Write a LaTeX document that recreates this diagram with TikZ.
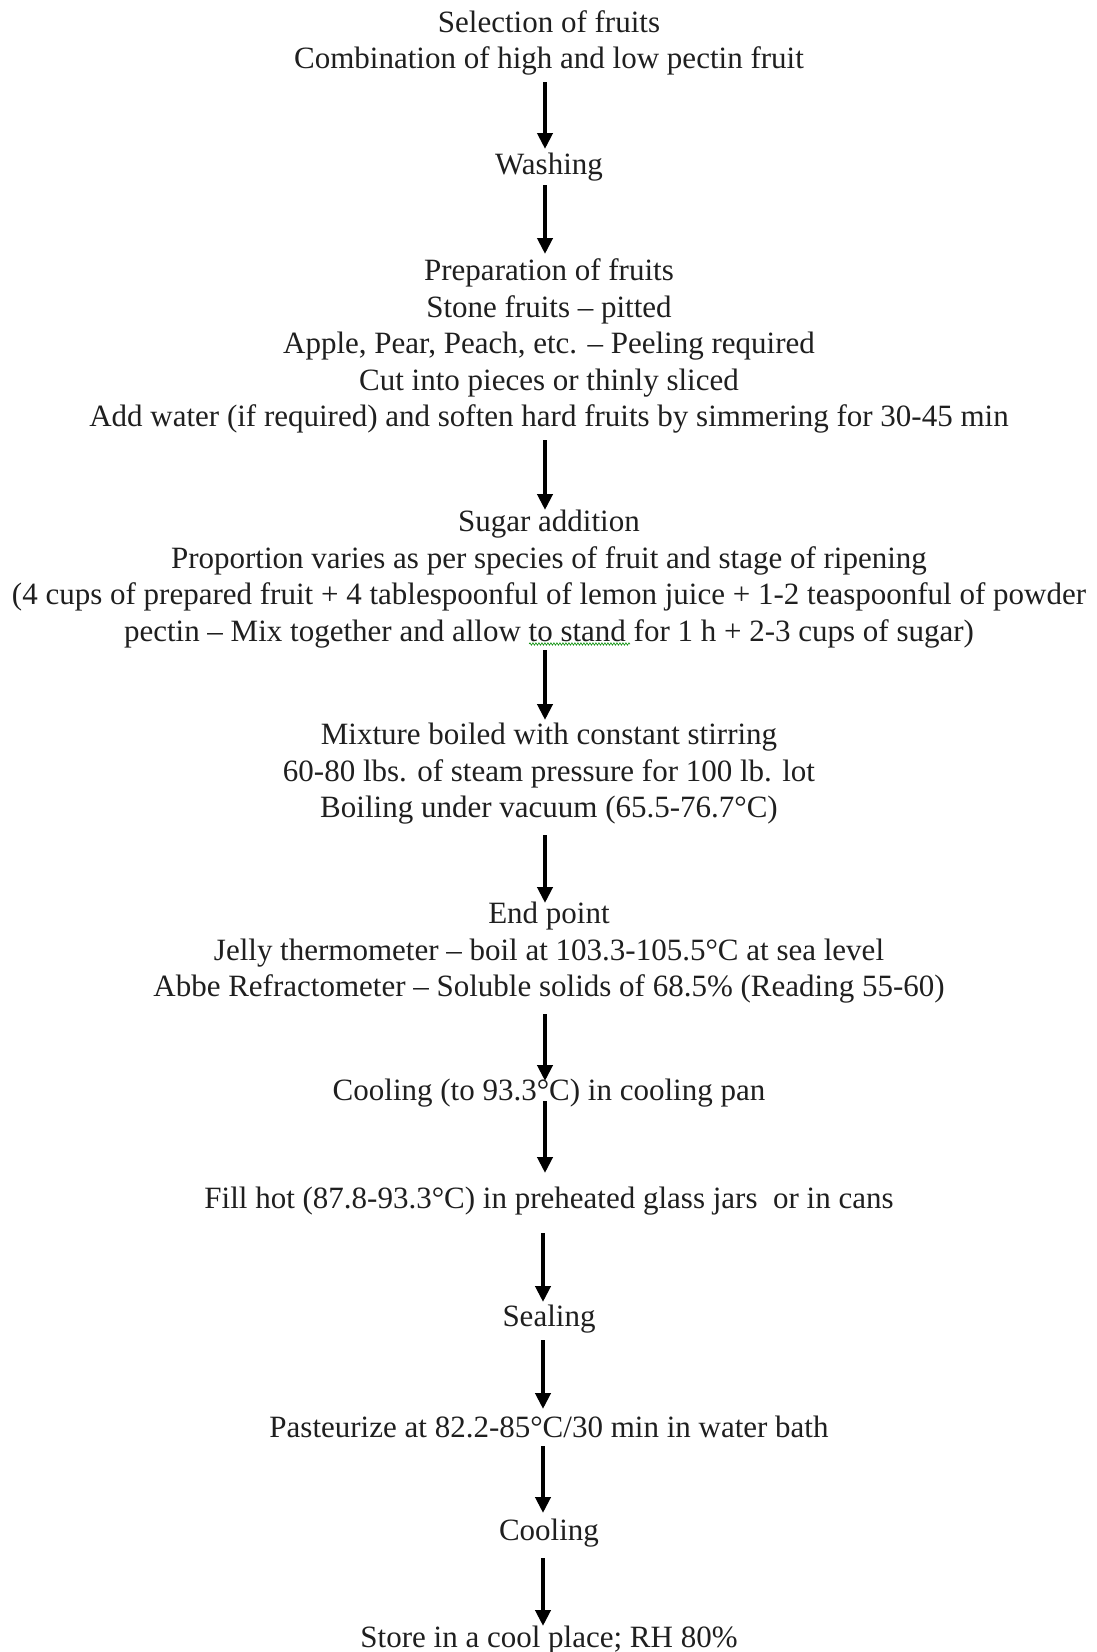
\documentclass[tikz,border=0pt]{standalone}
\usepackage{fontspec}
\setmainfont{Liberation Serif}
\usetikzlibrary{arrows.meta,decorations.pathmorphing}
\tikzset{
  stepbox/.style={align=center,inner sep=0pt,text=black!88,font=\fontsize{31}{36.5}\selectfont},
  flow/.style={line width=4pt,-{Triangle[length=16pt,width=15pt]}},
}
\begin{document}
\begin{tikzpicture}[x=1pt,y=1pt]
\useasboundingbox[fill=white] (0,0) rectangle (1096,-1652);
\node[stepbox] (n1) at (549,-43) {Selection of fruits\\Combination of high and low pectin fruit};
\node[stepbox] (n2) at (549,-167) {Washing};
\node[stepbox] (n3) at (549,-346) {Preparation of fruits\\Stone fruits -- pitted\\Apple, Pear, Peach, etc. -- Peeling required\\Cut into pieces or thinly sliced\\Add water (if required) and soften hard fruits by simmering for 30-45 min};
\node[stepbox] (n4) at (549,-579) {Sugar addition\\Proportion varies as per species of fruit and stage of ripening\\(4 cups of prepared fruit + 4 tablespoonful of lemon juice + 1-2 teaspoonful of powder\\pectin -- Mix together and allow to stand for 1 h + 2-3 cups of sugar)};
\node[stepbox] (n5) at (549,-774) {Mixture boiled with constant stirring\\60-80 lbs. of steam pressure for 100 lb. lot\\Boiling under vacuum (65.5-76.7°C)};
\node[stepbox] (n6) at (549,-953) {End point\\Jelly thermometer -- boil at 103.3-105.5°C at sea level\\Abbe Refractometer -- Soluble solids of 68.5\% (Reading 55-60)};
\node[stepbox] (n7) at (549,-1093) {Cooling (to 93.3°C) in cooling pan};
\node[stepbox] (n8) at (549,-1201) {Fill hot (87.8-93.3°C) in preheated glass jars\ \ or in cans};
\node[stepbox] (n9) at (549,-1319) {Sealing};
\node[stepbox] (n10) at (549,-1427) {Pasteurize at 82.2-85°C/30 min in water bath};
\node[stepbox] (n11) at (549,-1533) {Cooling};
\node[stepbox] (n12) at (549,-1640) {Store in a cool place; RH 80\%};
% arrow end points
\coordinate (a1s) at (545,-82);   \coordinate (a1e) at (545,-149);
\coordinate (a2s) at (545,-185);  \coordinate (a2e) at (545,-254);
\coordinate (a3s) at (545,-440);  \coordinate (a3e) at (545,-510);
\coordinate (a4s) at (545,-650);  \coordinate (a4e) at (545,-720);
\coordinate (a5s) at (545,-835);  \coordinate (a5e) at (545,-903);
\coordinate (a6s) at (545,-1014); \coordinate (a6e) at (545,-1081);
\coordinate (a7s) at (545,-1101); \coordinate (a7e) at (545,-1173);
\coordinate (a8s) at (543,-1233); \coordinate (a8e) at (543,-1302);
\coordinate (a9s) at (543,-1340); \coordinate (a9e) at (543,-1409);
\coordinate (a10s) at (543,-1446); \coordinate (a10e) at (543,-1513);
\coordinate (a11s) at (543,-1558); \coordinate (a11e) at (543,-1626);
\foreach \i in {1,...,11} \draw[flow] (a\i s) -- (a\i e);
% spell-check squiggle
\coordinate (sq1) at (529,-644); \coordinate (sq2) at (630,-644);
\draw[green!55!black,line width=0.6pt,decorate,decoration={snake,amplitude=1.2pt,segment length=3pt}] (sq1) -- (sq2);
\end{tikzpicture}
\end{document}
